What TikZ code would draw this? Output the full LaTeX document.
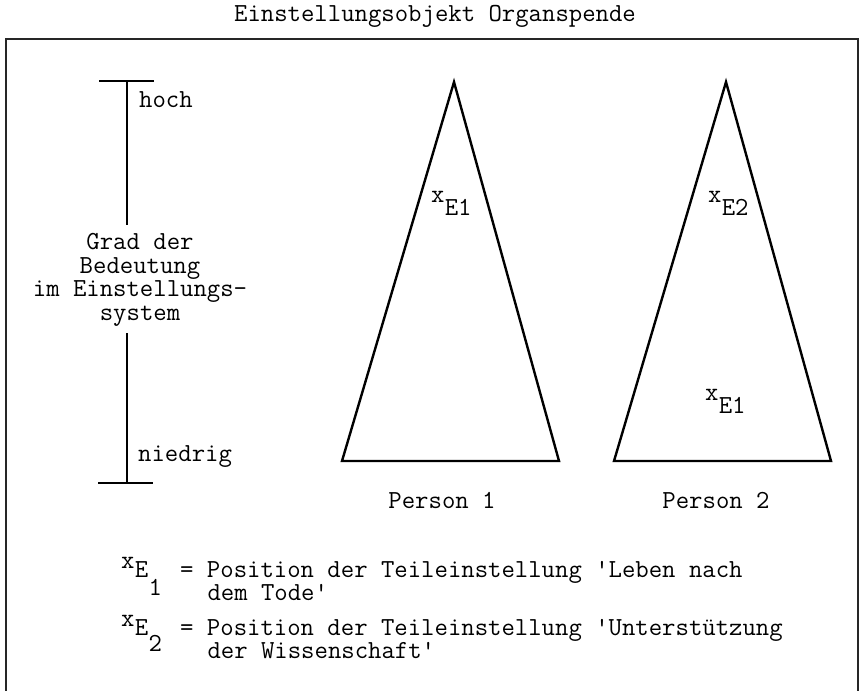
\documentclass[tikz,border=0pt]{standalone}
\usepackage{tikz}
\usetikzlibrary{calc}

\tikzset{
	txt/.style={font=\ttfamily\fontsize{26}{23.7}\selectfont,inner sep=0pt},
	bar/.style={line width=2.6pt},
	tri/.style={line width=2.4pt,line join=miter},
	frame/.style={line width=2pt,black!85}
}

\begin{document}
\begin{tikzpicture}[x=1pt,y=-1pt]
		\useasboundingbox (0,0) rectangle (861,690);
		
		%----------------------------------------
		% Title and frame
		%----------------------------------------
		\node[txt,anchor=base] (title) at (435,22) {Einstellungsobjekt Organspende};
		
		\coordinate (FBL) at (6,692);
		\coordinate (FTL) at (6,39);
		\coordinate (FTR) at (858,39);
		\coordinate (FBR) at (858,692);
		\draw[frame] (FBL) -- (FTL) -- (FTR) -- (FBR);
		
		%----------------------------------------
		% Scale
		%----------------------------------------
		\coordinate (Shi) at (127,81);
		\coordinate (ShiEnd) at (127,225);
		\coordinate (SloEnd) at (127,333);
		\coordinate (Slo) at (127,483);
		
		\draw[bar] ($(Shi)+(-28,0)$) -- ($(Shi)+(27,0)$);
		\draw[bar] (Shi) -- (ShiEnd);
		\draw[bar] (SloEnd) -- (Slo);
		\draw[bar] ($(Slo)+(-29,0)$) -- ($(Slo)+(26,0)$);
		
		\node[txt,anchor=base west] (hoch) at (139,108) {hoch};
		\node[txt,anchor=base west] (niedrig) at (138,461) {niedrig};
		\node[txt,align=center,anchor=north] (grad) at (140,233)
		{Grad der\\Bedeutung\\im Einstellungs-\\system};
		
		%----------------------------------------
		% Person 1
		%----------------------------------------
		\coordinate (A1) at (454,82);
		\coordinate (L1) at (342,461);
		\coordinate (R1) at (559,461);
		\draw[tri] (A1) -- (L1) -- (R1) -- cycle;
		
		\node[txt,anchor=base west] (xa) at (431,202) {x};
		\node[txt,anchor=base west] (xaE) at (444.6,215) {E1};
		\node[txt,anchor=base] (p1) at (442,508) {Person 1};
		
		%----------------------------------------
		% Person 2
		%----------------------------------------
		\coordinate (A2) at (726,82);
		\coordinate (L2) at (614,461);
		\coordinate (R2) at (831,461);
		\draw[tri] (A2) -- (L2) -- (R2) -- cycle;
		
		\node[txt,anchor=base west] (xb) at (708,202) {x};
		\node[txt,anchor=base west] (xbE) at (721.6,215) {E2};
		\node[txt,anchor=base west] (xc) at (705,400) {x};
		\node[txt,anchor=base west] (xcE) at (718.6,413) {E1};
		\node[txt,anchor=base] (p2) at (716,508) {Person 2};
		
		%----------------------------------------
		% Key
		%----------------------------------------
		\node[txt,anchor=base west] (keyAx) at (121,568) {x};
		\node[txt,anchor=base west] (keyAE) at (134.6,577) {E};
		\node[txt,anchor=base west] (keyA1) at (148.3,595) {1};
		\node[txt,anchor=base west] (keyA) at (180,577) {= Position der Teileinstellung 'Leben nach};
		\node[txt,anchor=base west] (keyAb) at (207.3,600) {dem Tode'};
		
		\node[txt,anchor=base west] (keyBx) at (121,626) {x};
		\node[txt,anchor=base west] (keyBE) at (134.6,635) {E};
		\node[txt,anchor=base west] (keyB2) at (148.3,651) {2};
		\node[txt,anchor=base west] (keyB) at (180,635) {= Position der Teileinstellung 'Unterstützung};
		\node[txt,anchor=base west] (keyBb) at (207.3,658) {der Wissenschaft'};
		
	\end{tikzpicture}
\end{document}
